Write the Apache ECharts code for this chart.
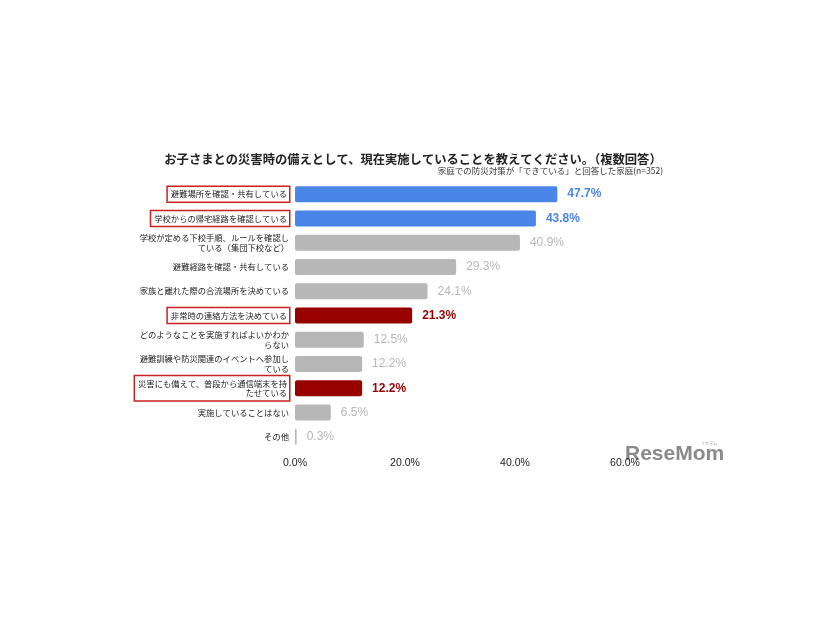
<!DOCTYPE html>
<html><head><meta charset="utf-8">
<script src="https://cdn.jsdelivr.net/npm/echarts@6/dist/echarts.min.js"></script>
<style>html,body{margin:0;padding:0;background:#fff}#c{width:826px;height:620px}</style>
</head><body><div id="c"></div>
<script>
const categories = [
  '避難場所を確認・共有している',
  '学校からの帰宅経路を確認している',
  '学校が定める下校手順、ルールを確認し\nている（集団下校など）',
  '避難経路を確認・共有している',
  '家族と離れた際の合流場所を決めている',
  '非常時の連絡方法を決めている',
  'どのようなことを実施すればよいかわか\nらない',
  '避難訓練や防災関連のイベントへ参加し\nている',
  '災害にも備えて、普段から通信端末を持\nたせている',
  '実施していることはない',
  'その他'
];
const values = [47.7, 43.8, 40.9, 29.3, 24.1, 21.3, 12.5, 12.2, 12.2, 6.5, 0.3];
// b = blue highlight, r = red highlight, g = gray
const kinds = ['b','b','g','g','g','r','g','g','r','g','g'];
const xTicks = [0, 20, 40, 60];

const barColor = {b:'#4a86e8', r:'#990000', g:'#b7b7b7'};
const labelColor = {b:'#4a86e8', r:'#990000', g:'#b7b7b7'};
const font = '"Noto Sans CJK JP", "Noto Sans", sans-serif';

const chart = echarts.init(document.getElementById('c'));
chart.setOption({
  animation: false,
  title: {
    text: 'お子さまとの災害時の備えとして、現在実施していることを教えてください。（複数回答）',
    left: 'center', top: 148,
    textStyle: {fontSize: 12.3, fontWeight: 'bold', color: '#222', fontFamily: font}
  },
  graphic: [
    {type:'text', right: 163, top: 167, style:{text:'家庭での防災対策が「できている」と回答した家庭(n=352)', fontSize: 8.5, fill:'#333', fontFamily: font}},
    {type:'text', left: 625, top: 444, style:{text:'ReseMom', fontSize: 21, fontWeight:'bold', fill:'#8a8a8a', fontFamily:'"Liberation Sans", Arial, sans-serif'}},
    {type:'text', left: 701, top: 441, style:{text:'リセマム', fontSize: 4, fill:'#999', fontFamily: font}}
  ],
  grid: {left: 295, right: 201, top: 182, bottom: 171, containLabel: false},
  xAxis: {
    type: 'value', min: 0, max: 60, interval: 20,
    axisLine: {show:false}, axisTick:{show:false}, splitLine:{show:false},
    axisLabel: {formatter: v => v.toFixed(1) + '%', fontSize: 10.5, color:'#222', margin: 9, fontFamily: 'Arial, "Liberation Sans", sans-serif'}
  },
  yAxis: {
    type: 'category', inverse: true,
    data: categories.map((c, i) => {
      const item = {value: c};
      if (kinds[i] !== 'g') {
        item.textStyle = {borderColor:'#cc1f1f', borderWidth: 1.5, padding:[3,2,2,3], backgroundColor:'#fff'};
      }
      return item;
    }),
    axisLine:{show:false}, axisTick:{show:false},
    axisLabel: {fontSize: 8.3, color:'#222', margin: 6, lineHeight: 9.5, align:'right', fontFamily: font}
  },
  series: [{
    type: 'bar', barWidth: 16,
    data: values.map((v, i) => ({
      value: v,
      itemStyle: {color: barColor[kinds[i]], borderRadius: 2},
      label: {color: labelColor[kinds[i]], fontWeight: kinds[i] === 'g' ? 'normal' : 'bold'}
    })),
    label: {show: true, position: 'right', distance: 10, fontSize: 12, formatter: p => p.value.toFixed(1) + '%', fontFamily: 'Arial, "Liberation Sans", sans-serif'}
  }]
});
</script></body></html>
